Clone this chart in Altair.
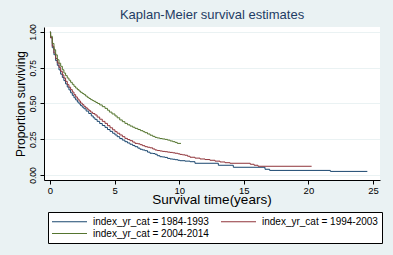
import altair as alt
import pandas as pd

GROUPS = ["index_yr_cat = 1984-1993", "index_yr_cat = 1994-2003", "index_yr_cat = 2004-2014"]
COLORS = ["#1a476f", "#90353b", "#55752f"]

KM_1984_1993 = [(0, 1.0), (0.05, 0.96), (0.18, 0.89), (0.31, 0.841), (0.44, 0.80), (0.57, 0.767),
    (0.70, 0.735), (0.83, 0.705), (0.96, 0.682), (1.08, 0.66), (1.21, 0.637), (1.34, 0.615),
    (1.47, 0.595), (1.60, 0.575), (1.73, 0.557), (1.86, 0.54), (1.99, 0.525), (2.12, 0.51),
    (2.25, 0.497), (2.37, 0.485), (2.50, 0.474), (2.63, 0.463), (2.80, 0.447), (3.00, 0.43),
    (3.20, 0.413), (3.35, 0.40), (3.48, 0.389), (3.65, 0.375), (3.85, 0.36), (4.05, 0.346),
    (4.26, 0.333), (4.45, 0.318), (4.65, 0.305), (4.85, 0.292), (5.03, 0.28), (5.20, 0.268),
    (5.40, 0.255), (5.60, 0.244), (5.80, 0.233), (6.00, 0.224), (6.19, 0.215), (6.40, 0.206),
    (6.58, 0.198), (6.80, 0.188), (6.97, 0.18), (7.15, 0.175), (7.35, 0.17), (7.55, 0.16),
    (7.74, 0.152), (7.95, 0.15), (8.13, 0.145), (8.30, 0.135), (8.51, 0.128), (8.70, 0.126),
    (8.90, 0.123), (9.10, 0.116), (9.29, 0.112), (9.50, 0.11), (9.68, 0.107), (9.90, 0.103),
    (10.06, 0.10), (10.45, 0.097), (10.84, 0.093), (11.22, 0.082), (13.03, 0.068), (14.19, 0.054),
    (16.64, 0.040), (17.0, 0.032), (21.7, 0.025), (24.56, 0.025)]

KM_1994_2003 = [(0, 1.0), (0.05, 0.96), (0.18, 0.90), (0.31, 0.853), (0.44, 0.815), (0.57, 0.783),
    (0.70, 0.753), (0.83, 0.725), (0.96, 0.70), (1.08, 0.678), (1.21, 0.655), (1.34, 0.632),
    (1.47, 0.614), (1.60, 0.597), (1.73, 0.58), (1.86, 0.562), (1.99, 0.546), (2.12, 0.531),
    (2.25, 0.517), (2.37, 0.503), (2.50, 0.492), (2.63, 0.48), (2.76, 0.47), (2.89, 0.46),
    (3.02, 0.45), (3.15, 0.44), (3.30, 0.43), (3.48, 0.42), (3.65, 0.405), (3.85, 0.39),
    (4.05, 0.375), (4.26, 0.361), (4.45, 0.345), (4.65, 0.33), (4.85, 0.316), (5.03, 0.303),
    (5.20, 0.292), (5.40, 0.28), (5.60, 0.268), (5.80, 0.256), (6.00, 0.248), (6.19, 0.24),
    (6.40, 0.23), (6.58, 0.221), (6.80, 0.218), (6.97, 0.212), (7.15, 0.205), (7.35, 0.198),
    (7.55, 0.194), (7.74, 0.19), (7.95, 0.182), (8.13, 0.175), (8.30, 0.171), (8.51, 0.168),
    (8.70, 0.165), (8.90, 0.163), (9.10, 0.16), (9.29, 0.158), (9.50, 0.155), (9.68, 0.152),
    (9.90, 0.148), (10.06, 0.144), (10.25, 0.141), (10.45, 0.138), (10.65, 0.131), (10.84, 0.124),
    (11.22, 0.118), (11.61, 0.112), (12.0, 0.108), (12.38, 0.103), (12.77, 0.097), (13.16, 0.091),
    (13.55, 0.086), (13.93, 0.082), (15.50, 0.075), (15.80, 0.068), (16.10, 0.061), (20.25, 0.061)]

KM_2004_2014 = [(0, 1.0), (0.05, 0.97), (0.18, 0.92), (0.31, 0.876), (0.44, 0.84), (0.57, 0.806),
    (0.70, 0.782), (0.83, 0.76), (0.96, 0.736), (1.08, 0.713), (1.21, 0.695), (1.34, 0.678),
    (1.47, 0.663), (1.60, 0.648), (1.73, 0.634), (1.86, 0.62), (1.99, 0.608), (2.12, 0.597),
    (2.25, 0.587), (2.37, 0.578), (2.50, 0.57), (2.63, 0.562), (2.76, 0.552), (2.89, 0.543),
    (3.02, 0.535), (3.15, 0.527), (3.28, 0.521), (3.40, 0.515), (3.55, 0.507), (3.69, 0.50),
    (3.85, 0.49), (4.05, 0.478), (4.26, 0.466), (4.45, 0.453), (4.60, 0.44), (4.80, 0.427),
    (5.03, 0.413), (5.20, 0.40), (5.40, 0.385), (5.60, 0.373), (5.80, 0.361), (6.00, 0.351),
    (6.20, 0.342), (6.40, 0.334), (6.58, 0.326), (6.80, 0.318), (7.00, 0.31), (7.20, 0.303),
    (7.35, 0.296), (7.55, 0.287), (7.75, 0.278), (7.95, 0.27), (8.13, 0.263), (8.30, 0.259),
    (8.50, 0.255), (8.70, 0.252), (8.90, 0.249), (9.10, 0.244), (9.30, 0.238), (9.50, 0.233),
    (9.68, 0.228), (9.85, 0.221), (10.14, 0.221)]

X_TICKS = [0, 5, 10, 15, 20, 25]
Y_TICKS = [0, 0.25, 0.5, 0.75, 1.0]

rows = []
for g, series in zip(GROUPS, [KM_1984_1993, KM_1994_2003, KM_2004_2014]):
    for t, s in series:
        rows.append({"t": t, "s": s, "group": g})
df = pd.DataFrame(rows)

FONT = "Liberation Sans"
BG = "#eaf2f3"

chart = alt.Chart(df).mark_line(interpolate="step-after", strokeWidth=1).encode(
    x=alt.X("t:Q",
            scale=alt.Scale(domain=[-0.46, 25.54], nice=False, zero=False),
            axis=alt.Axis(values=X_TICKS, title="Survival time(years)", grid=False,
                          format="d", labelFontSize=9.5, labelFont=FONT, labelColor="black",
                          labelPadding=1, tickSize=4, tickColor="black", domainColor="black",
                          titleFont=FONT, titleFontSize=13.5, titleFontWeight="normal",
                          titleColor="black", titleX=167.5, titleY=23.5,
                          titleBaseline="alphabetic")),
    y=alt.Y("s:Q",
            scale=alt.Scale(domain=[-0.035, 1.035], nice=False, zero=False),
            axis=alt.Axis(values=Y_TICKS, title="Proportion surviving", grid=True,
                          gridColor=BG, gridWidth=1, format=".2f",
                          labelAngle=270, labelAlign="center", labelBaseline="bottom",
                          labelFontSize=8.5, labelFont=FONT, labelColor="black",
                          labelPadding=3, tickSize=4, tickColor="black", domainColor="black",
                          titleFont=FONT, titleFontSize=12, titleFontWeight="normal",
                          titleColor="black", titleAngle=270, titleX=-20, titleY=76.5,
                          titleAlign="center", titleBaseline="alphabetic")),
    color=alt.Color("group:N",
                    scale=alt.Scale(domain=GROUPS, range=COLORS),
                    legend=alt.Legend(title=None, orient="none", legendX=4, legendY=185,
                                      columns=2, direction="horizontal",
                                      strokeColor="black", fillColor="white", padding=4,
                                      symbolType="M-1.1,0L5.9,0", symbolSize=100,
                                      symbolStrokeWidth=1, labelFont=FONT,
                                      labelFontSize=10, labelColor="black", labelOffset=30,
                                      columnPadding=10, rowPadding=1, labelLimit=300)),
).properties(
    width=336, height=153,
    title=alt.TitleParams("Kaplan-Meier survival estimates", font=FONT, fontSize=13,
                          fontWeight="normal", color="#1e3c64", anchor="middle", offset=2),
    background=BG,
    padding={"left": 44, "top": 27, "right": 13, "bottom": 75},
    autosize=alt.AutoSizeParams(type="none"),
).configure_view(fill="white", strokeWidth=0)

chart.save("out.html", embed_options={"renderer": "svg", "actions": False})
